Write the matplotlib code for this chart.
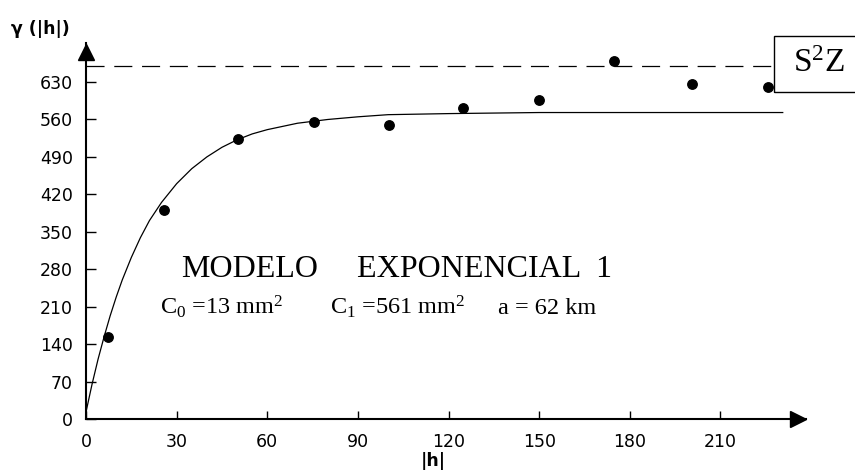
import matplotlib.pyplot as plt
from matplotlib.patches import Rectangle
from matplotlib.transforms import offset_copy

# experimental semivariogram points
lags = [7.2, 25.9, 50.2, 75.4, 100.4, 124.9, 150.0, 174.8, 200.5, 225.6]
gamma = [152.7, 390.7, 522.9, 555.2, 549.6, 581.4, 596.4, 669.3, 625.7, 620.1]

# fitted exponential model
model_h = [0, 2, 4, 6, 8, 10, 12, 15, 18, 21, 25, 30, 35, 40, 45, 50, 55, 60,
           70, 80, 90, 100, 120, 150, 190, 230.6]
model_gamma = [13, 65, 112, 154, 193, 228, 260, 302, 339, 371, 405, 440, 468,
               490, 508, 522, 533, 541, 553, 560, 565, 569, 571, 573, 573, 573]

sill = 660.5  # S^2 Z

x_ticks = [0, 30, 60, 90, 120, 150, 180, 210]
y_ticks = [0, 70, 140, 210, 280, 350, 420, 490, 560, 630]

plt.rcParams['mathtext.fontset'] = 'custom'
plt.rcParams['mathtext.rm'] = 'Liberation Serif'
plt.rcParams['mathtext.it'] = 'Liberation Serif:italic'
plt.rcParams['lines.scale_dashes'] = False

W, H = 855, 472
fig = plt.figure(figsize=(W / 100, H / 100), dpi=100)
ax = fig.add_axes([86 / W, 53 / H, 720 / W, 376 / H])
ax.set_xlim(0, 238.3)
ax.set_ylim(0, 703)

for side in ['top', 'right']:
    ax.spines[side].set_visible(False)
for side in ['left', 'bottom']:
    ax.spines[side].set_linewidth(1.5)

ax.set_xticks(x_ticks)
ax.set_yticks(y_ticks)
ax.tick_params(axis='x', direction='in', length=6, width=1, pad=10, labelsize=12.5)
ax.tick_params(axis='y', direction='in', length=7, width=1, pad=9.5, labelsize=12.5)

# axis arrows
tr_up = offset_copy(ax.transAxes, fig=fig, x=0, y=-6.5, units='points')
ax.plot([0], [1], marker='^', ms=12, color='k', transform=tr_up, clip_on=False)
tr_right = offset_copy(ax.transAxes, fig=fig, x=-6, y=0, units='points')
ax.plot([1], [0], marker='>', ms=11, color='k', transform=tr_right, clip_on=False)

# sill line
ax.axhline(sill, xmin=0, xmax=(774 - 86) / 720, color='k', lw=0.9,
           dashes=(13, 7))

ax.plot(model_h, model_gamma, color='k', lw=0.9)
ax.plot(lags, gamma, 'o', color='k', ms=6.8, clip_on=False)

# labels
fig.text(11 / W, 1 - 29 / H, 'γ (|h|)', fontsize=12.5, fontweight='bold',
         ha='left', va='center')
fig.text(433 / W, 1 - 461 / H, '|h|', fontsize=12.5, fontweight='bold',
         ha='center', va='center')

serif = 'Liberation Serif'
fig.text(181 / W, 1 - 276.7 / H, 'MODELO', family=serif, fontsize=23,
         va='baseline')
fig.text(356.7 / W, 1 - 276.7 / H, 'EXPONENCIAL  1', family=serif, fontsize=23,
         va='baseline')
fig.text(160 / W, 1 - 314 / H, 'C$_0$ =13 mm$^2$', family=serif, fontsize=17.5,
         va='baseline')
fig.text(330 / W, 1 - 314 / H, 'C$_1$ =561 mm$^2$', family=serif, fontsize=17.5,
         va='baseline')
fig.text(498 / W, 1 - 314 / H, 'a = 62 km', family=serif, fontsize=17.5,
         va='baseline')

# S^2 Z box
fig.patches.append(Rectangle((774 / W, 1 - 92 / H), 90 / W, 56 / H,
                             transform=fig.transFigure, fill=False,
                             edgecolor='k', lw=1))
fig.text(819 / W, 1 - 64 / H, 'S$^2$Z', family=serif, fontsize=24,
         ha='center', va='center')

fig.savefig('out.png', dpi=100)
